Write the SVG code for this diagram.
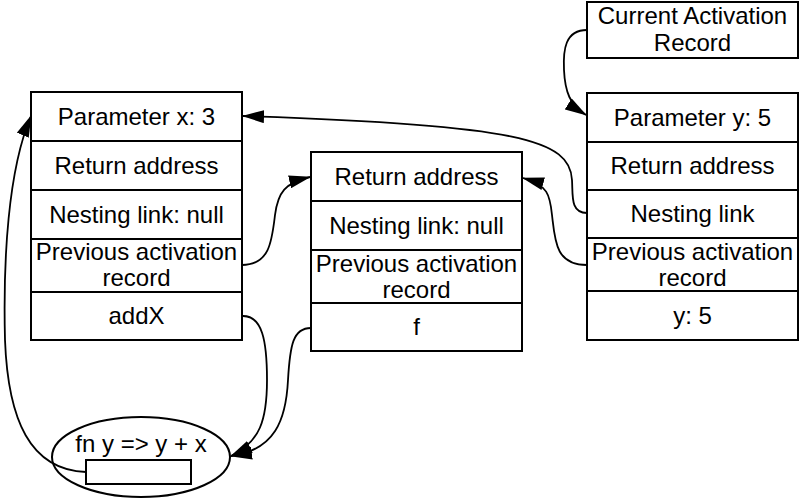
<svg xmlns="http://www.w3.org/2000/svg" width="799" height="499" viewBox="0 0 799 499">
<defs>
<style>
.box{fill:#fff;stroke:#000;stroke-width:2}
.t{font-family:"Liberation Sans",Arial,sans-serif;font-size:24px;fill:#000;text-anchor:middle}
.c{fill:none;stroke:#000;stroke-width:1.8;marker-end:url(#ah)}
</style>
<marker id="ah" viewBox="0 0 22 13" refX="21" refY="6.5" markerWidth="22" markerHeight="13" markerUnits="userSpaceOnUse" orient="auto">
<path d="M0,0 L22,6.5 L0,13 z" fill="#000"/>
</marker>
</defs>
<rect width="799" height="499" fill="#fff"/>

<g id="left-stack">
<rect class="box" x="31" y="92" width="211" height="49"/>
<text class="t" x="136.5" y="125">Parameter x: 3</text>
<rect class="box" x="31" y="141" width="211" height="49"/>
<text class="t" x="136.5" y="174">Return address</text>
<rect class="box" x="31" y="190" width="211" height="49"/>
<text class="t" x="136.5" y="223">Nesting link: null</text>
<rect class="box" x="31" y="239" width="211" height="53"/>
<text class="t" x="136.5" y="260">Previous activation</text>
<text class="t" x="136.5" y="286">record</text>
<rect class="box" x="31" y="292" width="211" height="48"/>
<text class="t" x="136.5" y="324">addX</text>
</g>

<g id="middle-stack">
<rect class="box" x="311" y="152" width="211" height="49"/>
<text class="t" x="416.5" y="185">Return address</text>
<rect class="box" x="311" y="201" width="211" height="49"/>
<text class="t" x="416.5" y="234">Nesting link: null</text>
<rect class="box" x="311" y="250" width="211" height="53"/>
<text class="t" x="416.5" y="272">Previous activation</text>
<text class="t" x="416.5" y="298">record</text>
<rect class="box" x="311" y="303" width="211" height="48"/>
<text class="t" x="416.5" y="335">f</text>
</g>

<g id="current-record">
<rect class="box" x="587" y="2" width="211" height="56"/>
<text class="t" x="692.5" y="24">Current Activation</text>
<text class="t" x="692.5" y="51">Record</text>
</g>

<g id="right-stack">
<rect class="box" x="587" y="93" width="211" height="49"/>
<text class="t" x="692.5" y="126">Parameter y: 5</text>
<rect class="box" x="587" y="142" width="211" height="48"/>
<text class="t" x="692.5" y="174">Return address</text>
<rect class="box" x="587" y="190" width="211" height="48"/>
<text class="t" x="692.5" y="222">Nesting link</text>
<rect class="box" x="587" y="238" width="211" height="53"/>
<text class="t" x="692.5" y="260">Previous activation</text>
<text class="t" x="692.5" y="286">record</text>
<rect class="box" x="587" y="291" width="211" height="49"/>
<text class="t" x="692.5" y="324">y: 5</text>
</g>

<g id="closure">
<ellipse class="box" cx="141" cy="457" rx="89" ry="40"/>
<text class="t" x="141" y="452">fn y =&gt; y + x</text>
<rect class="box" x="86" y="460" width="105" height="24"/>
</g>

<g id="connectors">
<path class="c" d="M587,30 C565,30 563,50 564,70 C565,92 570,105 586,115"/>
<path class="c" d="M587,213 C570,213 573,195 572,180 C570,140 520,125 243,116"/>
<path class="c" d="M587,265 C555,265 555,240 552,215 C550,195 548,185 523,178"/>
<path class="c" d="M242,265 C270,265 272,240 275,215 C278,192 285,183 310,177"/>
<path class="c" d="M243,316 C262,316 267,340 267,380 C267,420 260,442 231,456"/>
<path class="c" d="M311,328 C293,328 290,345 288,380 C286,420 275,450 231,456"/>
<path class="c" d="M86,472 C30,470 8,420 5,340 C3,260 8,170 31,116"/>
</g>
</svg>
